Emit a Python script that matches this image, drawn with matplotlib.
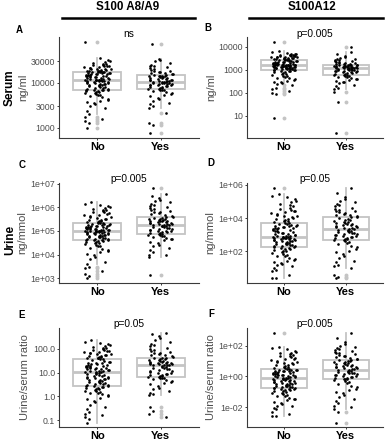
import numpy as np
import matplotlib
matplotlib.use("Agg")
import matplotlib.pyplot as plt
from matplotlib import cbook
import matplotlib.transforms as mtransforms

plt.rcParams['font.family'] = ['Liberation Sans', 'DejaVu Sans']

groups = ["No", "Yes"]

serum_a8_no = [3.00, 3.10, 3.15, 3.20, 3.25, 3.30, 3.38, 3.45, 3.48, 3.52, 3.55, 3.58, 3.60, 3.62, 3.65,
               3.68, 3.70, 3.72, 3.74, 3.76, 3.77, 3.78, 3.79, 3.80, 3.81, 3.82, 3.83, 3.83, 3.84, 3.84,
               3.85, 3.86, 3.87, 3.88, 3.89, 3.90, 3.91, 3.92, 3.93, 3.94, 3.95, 3.96, 3.97, 3.97, 3.98,
               3.99, 4.00, 4.00, 4.01, 4.02, 4.02, 4.03, 4.03, 4.04, 4.04, 4.05, 4.05, 4.06, 4.06, 4.06,
               4.07, 4.07, 4.08, 4.08, 4.09, 4.10, 4.10, 4.11, 4.12, 4.12, 4.13, 4.14, 4.14, 4.15, 4.16,
               4.16, 4.17, 4.18, 4.18, 4.19, 4.19, 4.20, 4.20, 4.21, 4.21, 4.22, 4.22, 4.23, 4.23, 4.23,
               4.24, 4.24, 4.25, 4.25, 4.26, 4.27, 4.27, 4.28, 4.29, 4.30, 4.30, 4.31, 4.32, 4.33, 4.34,
               4.35, 4.36, 4.37, 4.38, 4.39, 4.40, 4.41, 4.42, 4.43, 4.45, 4.47, 4.50, 4.55, 4.91, 4.30]
serum_a8_yes = [2.88, 3.06, 3.12, 3.34,
                3.45, 3.48, 3.52, 3.55, 3.60, 3.63, 3.66, 3.70, 3.72, 3.75, 3.77, 3.79, 3.81, 3.83, 3.84, 3.85, 3.86,
                3.87, 3.88, 3.89, 3.90, 3.91, 3.92, 3.93, 3.94, 3.95, 3.95, 3.96, 3.97, 3.98, 3.98, 3.99, 3.99,
                4.00, 4.00, 4.01, 4.01, 4.02,
                4.02, 4.03, 4.04, 4.04, 4.05, 4.06, 4.07, 4.07, 4.08, 4.09, 4.10, 4.10, 4.11, 4.12, 4.13, 4.14,
                4.14, 4.15, 4.16, 4.16, 4.17,
                4.18, 4.19, 4.20, 4.21, 4.22, 4.23, 4.24, 4.25, 4.26, 4.28, 4.30, 4.32, 4.34, 4.36, 4.38, 4.40,
                4.44, 4.48, 4.50, 4.52, 4.85]

serum_a12_no = [0.91, 1.94, 1.98, 2.05, 2.15, 2.20, 4.22,
                2.32, 2.36, 2.40, 2.45, 2.48, 2.52, 2.55, 2.58, 2.62, 2.65, 2.68, 2.70, 2.73, 2.76, 2.79, 2.82,
                2.85, 2.88, 2.90, 2.92, 2.94, 2.96, 2.97,
                2.98, 2.99, 3.00, 3.01, 3.02, 3.03, 3.04, 3.05, 3.05, 3.06, 3.07, 3.08, 3.08, 3.09, 3.10, 3.10,
                3.11, 3.12, 3.12, 3.13, 3.13, 3.14, 3.14, 3.15, 3.15, 3.16, 3.16, 3.17, 3.17, 3.17,
                3.18, 3.18, 3.19, 3.19, 3.20, 3.20, 3.21, 3.22, 3.22, 3.23, 3.24, 3.24, 3.25, 3.26, 3.26, 3.27,
                3.28, 3.29, 3.30, 3.31, 3.32, 3.33, 3.34, 3.35, 3.36, 3.37, 3.38, 3.39, 3.40, 3.41,
                3.42, 3.43, 3.44, 3.45, 3.46, 3.47, 3.48, 3.49, 3.50, 3.51, 3.52, 3.53, 3.54, 3.55, 3.56, 3.57,
                3.58, 3.59, 3.60, 3.61, 3.62, 3.63, 3.64, 3.65, 3.66, 3.68, 3.70, 3.73, 3.77, 3.81]
serum_a12_yes = [0.22, 1.57, 2.04, 3.97,
                 2.15, 2.20, 2.28, 2.35, 2.40, 2.45, 2.48, 2.52, 2.55, 2.58, 2.61, 2.64, 2.67, 2.69, 2.71, 2.73,
                 2.75, 2.77,
                 2.78, 2.80, 2.82, 2.84, 2.86, 2.88, 2.89, 2.90, 2.92, 2.93, 2.94, 2.96, 2.97, 2.98, 2.99, 3.00,
                 3.01, 3.02, 3.03, 3.04, 3.06,
                 3.06, 3.07, 3.08, 3.08, 3.09, 3.10, 3.11, 3.11, 3.12, 3.13, 3.13, 3.14, 3.15, 3.15, 3.16, 3.17,
                 3.17, 3.18, 3.19, 3.19, 3.20,
                 3.21, 3.22, 3.23, 3.24, 3.25, 3.27, 3.28, 3.30, 3.32, 3.34, 3.36, 3.38, 3.40, 3.42, 3.44, 3.47,
                 3.50, 3.55, 3.60, 3.70, 3.78]

urine_a8_no = [3.00, 3.10, 3.20, 3.30, 3.45, 3.50,
               3.62, 3.70, 3.80, 3.90, 3.98, 4.05, 4.10, 4.15, 4.20, 4.25, 4.30, 4.35, 4.38, 4.42, 4.45, 4.48,
               4.50, 4.52, 4.54, 4.56, 4.58, 4.60, 4.61, 4.62,
               4.63, 4.65, 4.66, 4.68, 4.70, 4.71, 4.73, 4.74, 4.76, 4.77, 4.79, 4.80, 4.82, 4.83, 4.85, 4.86,
               4.88, 4.89, 4.90, 4.91, 4.92, 4.93, 4.94, 4.95, 4.96, 4.97, 4.98, 4.99, 4.99, 5.00,
               5.00, 5.01, 5.02, 5.03, 5.04, 5.05, 5.06, 5.07, 5.08, 5.09, 5.10, 5.11, 5.12, 5.13, 5.14, 5.15,
               5.16, 5.17, 5.18, 5.19, 5.20, 5.21, 5.22, 5.24, 5.25, 5.26, 5.28, 5.29, 5.30, 5.32,
               5.33, 5.35, 5.37, 5.39, 5.41, 5.43, 5.45, 5.47, 5.50, 5.52, 5.55, 5.58, 5.60, 5.63, 5.66, 5.69,
               5.72, 5.75, 5.78, 5.81, 5.84, 5.87, 5.90, 5.93, 5.96, 6.00, 6.05, 6.10, 6.15, 6.24]
urine_a8_yes = [3.14, 6.83,
                3.92, 3.97, 4.00, 4.10, 4.20, 4.28, 4.35, 4.42, 4.48, 4.55, 4.60, 4.65, 4.68, 4.72, 4.75, 4.78,
                4.80, 4.82, 4.84, 4.86,
                4.88, 4.90, 4.92, 4.94, 4.96, 4.98, 5.00, 5.02, 5.04, 5.06, 5.08, 5.10, 5.12, 5.14, 5.16, 5.18,
                5.19, 5.21, 5.22, 5.24, 5.25,
                5.26, 5.28, 5.29, 5.31, 5.32, 5.34, 5.35, 5.37, 5.38, 5.40, 5.41, 5.43, 5.44, 5.46, 5.47, 5.49,
                5.50, 5.52, 5.54, 5.56, 5.58,
                5.60, 5.63, 5.66, 5.70, 5.74, 5.78, 5.82, 5.86, 5.90, 5.94, 5.98, 6.02, 6.06, 6.10, 6.15, 6.20,
                6.26, 6.32, 6.40, 6.48, 6.55]

urine_a12_no = [5.84,
                0.37, 0.40, 0.60, 0.80, 0.90, 1.00, 1.10, 1.20, 1.25, 1.30, 1.35, 1.40, 1.50, 1.55, 1.60, 1.70,
                1.75, 1.80, 1.85, 1.90, 1.95, 2.00, 2.05, 2.10, 2.12, 2.15, 2.18, 2.20, 2.25,
                2.27, 2.30, 2.32, 2.35, 2.37, 2.40, 2.42, 2.45, 2.47, 2.50, 2.52, 2.55, 2.57, 2.60, 2.62, 2.64,
                2.66, 2.68, 2.70, 2.72, 2.74, 2.76, 2.78, 2.79, 2.80, 2.82, 2.83, 2.84, 2.85, 2.87,
                2.88, 2.90, 2.92, 2.95, 2.98, 3.00, 3.03, 3.06, 3.09, 3.12, 3.15, 3.18, 3.20, 3.23, 3.26, 3.29,
                3.32, 3.35, 3.38, 3.40, 3.43, 3.45, 3.48, 3.50, 3.53, 3.55, 3.58, 3.60, 3.62, 3.65,
                3.68, 3.72, 3.76, 3.80, 3.84, 3.88, 3.92, 3.96, 4.00, 4.05, 4.10, 4.15, 4.20, 4.25, 4.30, 4.35,
                4.40, 4.45, 4.50, 4.55, 4.62, 4.70, 4.78, 4.86, 4.95, 5.05, 5.15, 5.25, 5.35, 5.46]
urine_a12_yes = [0.37, 0.45, 0.60,
                 0.97, 1.10, 1.20, 1.35, 1.45, 1.60, 1.75, 1.85, 1.95, 2.05, 2.15, 2.25, 2.35, 2.42, 2.50, 2.56,
                 2.62, 2.67,
                 2.70, 2.73, 2.76, 2.79, 2.82, 2.85, 2.88, 2.91, 2.94, 2.97, 3.00, 3.03, 3.06, 3.09, 3.12, 3.15,
                 3.18, 3.21, 3.24, 3.27, 3.31,
                 3.34, 3.37, 3.40, 3.43, 3.46, 3.49, 3.52, 3.55, 3.58, 3.61, 3.64, 3.67, 3.70, 3.73, 3.76, 3.79,
                 3.82, 3.86, 3.90, 3.95, 4.00,
                 4.04, 4.08, 4.12, 4.16, 4.20, 4.25, 4.30, 4.35, 4.40, 4.45, 4.50, 4.55, 4.62, 4.70, 4.78, 4.86,
                 4.95, 5.05, 5.15, 5.30, 5.50, 5.80]

ratio_a8_no = [-1.10, -0.95, -0.88, -0.80, -0.75, -0.65, -0.55, -0.45, -0.35, -0.25, -0.18, -0.12, -0.06,
               0.00, 0.05, 0.08, 0.12, 0.15, 0.18, 0.21, 0.24, 0.27, 0.30, 0.32, 0.34, 0.36, 0.38, 0.40, 0.42,
               0.43,
               0.45, 0.47, 0.49, 0.51, 0.53, 0.55, 0.57, 0.59, 0.61, 0.63, 0.65, 0.67, 0.69, 0.71, 0.73, 0.75,
               0.77, 0.79, 0.81, 0.83, 0.85, 0.87, 0.89, 0.91, 0.93, 0.95, 0.97, 0.99, 1.01, 1.03,
               1.04, 1.05, 1.07, 1.08, 1.10, 1.11, 1.13, 1.14, 1.16, 1.17, 1.19, 1.20, 1.22, 1.23, 1.25, 1.26,
               1.28, 1.29, 1.31, 1.32, 1.34, 1.36, 1.38, 1.40, 1.42, 1.44, 1.46, 1.48, 1.51, 1.55,
               1.57, 1.59, 1.61, 1.63, 1.65, 1.67, 1.69, 1.71, 1.73, 1.75, 1.77, 1.79, 1.81, 1.83, 1.85, 1.87,
               1.89, 1.91, 1.93, 1.96, 1.99, 2.02, 2.05, 2.08, 2.11, 2.15, 2.20, 2.25, 2.30, 2.37]
ratio_a8_yes = [-0.45, -0.60, -0.75, -0.86,
                0.07, 0.10, 0.15, 0.22, 0.30, 0.37, 0.43, 0.50, 0.55, 0.60, 0.64, 0.68, 0.72, 0.75, 0.77, 0.79,
                0.81,
                0.83, 0.85, 0.87, 0.89, 0.91, 0.93, 0.95, 0.98, 1.00, 1.03, 1.05, 1.08, 1.10, 1.13, 1.15, 1.18,
                1.20, 1.23, 1.25, 1.28, 1.30,
                1.31, 1.32, 1.33, 1.34, 1.35, 1.37, 1.38, 1.39, 1.40, 1.42, 1.43, 1.45, 1.46, 1.48, 1.50, 1.52,
                1.54, 1.55, 1.57, 1.59, 1.61,
                1.63, 1.66, 1.69, 1.72, 1.75, 1.78, 1.81, 1.84, 1.88, 1.92, 1.96, 2.00, 2.05, 2.10, 2.15, 2.20,
                2.28, 2.35, 2.45, 2.55, 2.62, 2.68]

ratio_a12_no = [2.85,
                -2.60, -2.55, -2.45, -2.30, -2.15, -2.05, -1.95, -1.90, -1.80, -1.70, -1.65, -1.55, -1.50, -1.45,
                -1.38, -1.30, -1.25, -1.20, -1.15, -1.10, -1.05, -1.00, -0.96, -0.92, -0.89, -0.86, -0.84,
                -0.82, -0.80,
                -0.78, -0.76, -0.74, -0.72, -0.70, -0.67, -0.65, -0.62, -0.60, -0.57, -0.55, -0.52, -0.50,
                -0.47, -0.45, -0.42, -0.40, -0.37, -0.35, -0.32, -0.30, -0.28, -0.26, -0.24, -0.22, -0.20,
                -0.18, -0.16, -0.14, -0.12,
                -0.10, -0.08, -0.06, -0.04, -0.02, 0.00, 0.02, 0.04, 0.06, 0.08, 0.10, 0.12, 0.14, 0.16, 0.18,
                0.20, 0.22, 0.24, 0.26, 0.28, 0.30, 0.32, 0.34, 0.36, 0.38, 0.39, 0.40, 0.42, 0.43, 0.45,
                0.48, 0.52, 0.56, 0.60, 0.64, 0.68, 0.72, 0.76, 0.80, 0.84, 0.88, 0.92, 0.96, 1.00, 1.05, 1.10,
                1.15, 1.20, 1.25, 1.30, 1.35, 1.40, 1.45, 1.50, 1.55, 1.60, 1.68, 1.75, 1.82, 1.89]
ratio_a12_yes = [-3.00, -2.30,
                 -2.10, -2.00, -1.90, -1.75, -1.60, -1.50, -1.35, -1.20, -1.10, -1.00, -0.90, -0.80, -0.70,
                 -0.60, -0.50, -0.42, -0.35, -0.28, -0.23,
                 -0.20, -0.17, -0.14, -0.11, -0.08, -0.05, -0.02, 0.01, 0.04, 0.07, 0.10, 0.13, 0.16, 0.19,
                 0.22, 0.25, 0.28, 0.31, 0.34, 0.37, 0.41,
                 0.43, 0.46, 0.49, 0.52, 0.55, 0.58, 0.61, 0.64, 0.67, 0.70, 0.73, 0.76, 0.79, 0.82, 0.85, 0.88,
                 0.91, 0.94, 0.97, 1.00, 1.04,
                 1.08, 1.12, 1.16, 1.20, 1.25, 1.30, 1.35, 1.40, 1.45, 1.50, 1.55, 1.60, 1.66, 1.72, 1.78, 1.85,
                 1.92, 2.00, 2.10, 2.25, 2.50, 2.81]

# axis tick values and labels
ticks_A = [1000, 3000, 10000, 30000]
labels_A = ["1000", "3000", "10000", "30000"]
ticks_B = [10, 100, 1000, 10000]
labels_B = ["10", "100", "1000", "10000"]
ticks_C = [1e3, 1e4, 1e5, 1e6, 1e7]
labels_C = ["1e+03", "1e+04", "1e+05", "1e+06", "1e+07"]
ticks_D = [1e2, 1e4, 1e6]
labels_D = ["1e+02", "1e+04", "1e+06"]
ticks_E = [0.1, 1, 10, 100]
labels_E = ["0.1", "1.0", "10.0", "100.0"]
ticks_F = [1e-2, 1, 1e2]
labels_F = ["1e-02", "1e+00", "1e+02"]

panels = [
    dict(letter="A", no=serum_a8_no, yes=serum_a8_yes, ylabel="ng/ml", pval="ns", ticks=ticks_A, labels=labels_A),
    dict(letter="B", no=serum_a12_no, yes=serum_a12_yes, ylabel="ng/ml", pval="p=0.005", ticks=ticks_B, labels=labels_B),
    dict(letter="C", no=urine_a8_no, yes=urine_a8_yes, ylabel="ng/mmol", pval="p=0.005", ticks=ticks_C, labels=labels_C),
    dict(letter="D", no=urine_a12_no, yes=urine_a12_yes, ylabel="ng/mmol", pval="p=0.05", ticks=ticks_D, labels=labels_D),
    dict(letter="E", no=ratio_a8_no, yes=ratio_a8_yes, ylabel="Urine/serum ratio", pval="p=0.05", ticks=ticks_E, labels=labels_E),
    dict(letter="F", no=ratio_a12_no, yes=ratio_a12_yes, ylabel="Urine/serum ratio", pval="p=0.005", ticks=ticks_F, labels=labels_F),
]

col_titles = ["S100 A8/A9", "S100A12"]
row_titles = ["Serum", "Urine"]

# ---------------- layout ----------------
W, H = 385, 440
fig = plt.figure(figsize=(W / 100, H / 100), dpi=100)

col_lr = [(59, 199), (247, 383)]
row_tb = [(37, 138), (183, 283), (328, 427)]
letter_xy = [(19, 30), (208, 28), (22, 165), (211, 163), (22, 315), (211, 314)]

BOX_GREY = "#C4C4C4"
AX_GREY = "#3A3A3A"
TXT_GREY = "#4D4D4D"


def jitter(n, width=0.22):
    idx = np.arange(n, dtype=float)
    frac = (idx * idx * 0.3819660 + idx * 0.7071068 + 0.13) % 1.0
    return (frac - 0.5) * 2 * width


for k, p in enumerate(panels):
    r, c = divmod(k, 2)
    l, rr = col_lr[c]
    t, b = row_tb[r]
    ax = fig.add_axes([l / W, 1 - b / H, (rr - l) / W, (b - t) / H])
    ax.set_yscale("log")

    stats = []
    for vals in (p["no"], p["yes"]):
        st = cbook.boxplot_stats(np.array(vals), whis=1.5)[0]
        for key in ("med", "q1", "q3", "whislo", "whishi", "mean", "cilo", "cihi"):
            st[key] = 10 ** st[key]
        st["fliers"] = 10 ** np.asarray(st["fliers"])
        stats.append(st)

    ax.bxp(stats, positions=[1, 2], widths=0.75, showcaps=False, patch_artist=True,
           boxprops=dict(facecolor="white", edgecolor=BOX_GREY, linewidth=1.3),
           whiskerprops=dict(color=BOX_GREY, linewidth=1.3),
           medianprops=dict(color=BOX_GREY, linewidth=2.0),
           flierprops=dict(marker="o", markerfacecolor=BOX_GREY, markeredgecolor="none", markersize=2.8),
           zorder=1)

    for pos, vals in zip([1, 2], (p["no"], p["yes"])):
        v = np.array(vals)
        ax.scatter(pos + jitter(len(v)), 10 ** v, s=3.6, color="black", linewidths=0, zorder=3)

    ax.set_xlim(0.4, 2.6)
    ax.margins(y=0.05)
    ax.set_xticks([1, 2])
    ax.set_xticklabels(groups, fontsize=8, fontweight="bold", color="black")
    ax.set_yticks(p["ticks"])
    ax.set_yticklabels(p["labels"], fontsize=6.3, color=TXT_GREY)
    ax.yaxis.set_minor_locator(matplotlib.ticker.NullLocator())
    ax.tick_params(axis="both", length=1.6, width=0.7, color=AX_GREY, pad=1.2)
    for s in ("top", "right"):
        ax.spines[s].set_visible(False)
    for s in ("left", "bottom"):
        ax.spines[s].set_color(AX_GREY)
        ax.spines[s].set_linewidth(0.8)
    ax.set_ylabel(p["ylabel"], fontsize=8, color=TXT_GREY, labelpad=2)
    ax.text(1.5, 0.985, p["pval"], transform=mtransforms.blended_transform_factory(ax.transData, ax.transAxes),
            ha="center", va="bottom", fontsize=7.3, color="black")
    lx, ly = letter_xy[k]
    fig.text(lx / W, 1 - ly / H, p["letter"], ha="center", va="center", fontsize=7, fontweight="bold")

# column headers
centers = [128, 312]
for c, title in enumerate(col_titles):
    fig.text(centers[c] / W, 1 - 7.5 / H, title, ha="center", va="center", fontsize=8.4, fontweight="bold")
lines = [(62, 195), (249, 383)]
for x0, x1 in lines:
    fig.add_artist(matplotlib.lines.Line2D([x0 / W, x1 / W], [1 - 18.5 / H, 1 - 18.5 / H],
                                           transform=fig.transFigure, color="black", linewidth=1.8))

# row headers
row_y = [88, 240]
for rr_, title in enumerate(row_titles):
    fig.text(10 / W, 1 - row_y[rr_] / H, title, rotation=90, ha="center", va="center",
             fontsize=8.5, fontweight="bold")

fig.savefig("out.png", dpi=100)
